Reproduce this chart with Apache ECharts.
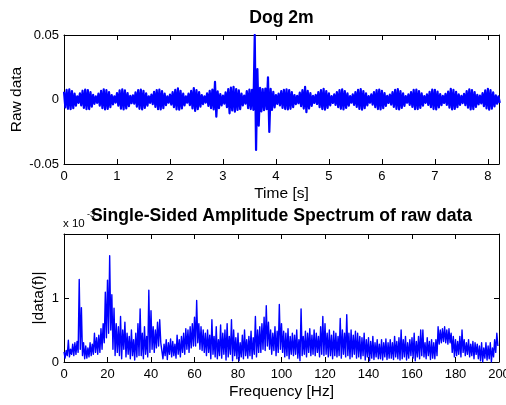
<!DOCTYPE html>
<html>
<head>
<meta charset="utf-8">
<title>Dog 2m</title>
<script src="https://cdn.jsdelivr.net/npm/echarts@6/dist/echarts.min.js"></script>
<style>
  html, body { margin: 0; padding: 0; background: #fff; }
  #chart { width: 506px; height: 405px; }
</style>
</head>
<body>
<div id="chart"></div>
<script>
// raw data envelope, one max/min pair every 0.05 s (values in 1e-3)
var rawStep = 0.05
var rawHi = [
  6.0, 7.4, 7.8, 6.6, 4.6, 2.5, 4.8, 6.8, 7.7, 7.3, 5.8, 3.6, 2.4, 4.6, 6.7, 7.9, 7.2, 5.8, 3.5, 2.5,
  5.0, 7.0, 7.8, 7.0, 5.0, 2.8, 3.3, 5.6, 7.3, 7.7, 6.7, 4.7, 2.5, 3.8, 5.9, 7.3, 7.7, 6.5, 4.5, 2.4,
  3.8, 5.8, 7.4, 8.6, 6.7, 4.5, 2.4, 4.5, 6.7, 8.9, 7.3, 5.8, 3.5, 2.5, 4.7, 6.7, 7.6, 13.6, 6.4, 4.2,
  3.0, 5.5, 8.0, 9.2, 9.9, 8.0, 7.0, 4.5, 3.0, 6.5, 7.6, 7.5, 50, 23.6, 9.0, 8.0, 8.5, 17.2, 8.2, 6.0,
  3.5, 4.6, 6.5, 7.5, 7.8, 7.3, 5.8, 3.5, 2.8, 5.3, 7.2, 9.9, 6.8, 5.0, 2.8, 3.6, 5.8, 7.3, 8.2, 6.5,
  4.7, 2.6, 4.0, 5.8, 7.3, 7.8, 6.6, 4.8, 2.6, 4.0, 5.8, 7.4, 8.0, 6.6, 4.8, 2.6, 4.0, 5.8, 7.3, 7.6,
  6.8, 5.0, 2.8, 3.8, 5.8, 7.4, 8.1, 6.6, 4.8, 2.6, 4.0, 5.8, 7.4, 7.6, 6.6, 4.8, 2.6, 4.0, 6.0, 7.6,
  7.5, 6.2, 4.2, 2.8, 4.3, 6.2, 8.2, 7.4, 6.0, 4.0, 2.8, 4.3, 6.5, 7.8, 7.3, 5.8, 3.6, 3.0, 5.0, 7.0,
  8.3, 7.2, 5.5, 3.2, 2.5
]
var rawLo = [
  -6.2, -7.2, -7.5, -6.8, -4.8, -2.6, -4.5, -6.6, -7.5, -7.4, -5.6, -3.4, -2.6, -4.8, -6.8, -7.6, -7.3, -5.9, -3.7, -2.4,
  -4.8, -7.1, -7.7, -6.9, -5.2, -2.9, -3.2, -5.5, -7.2, -7.6, -6.6, -4.8, -2.6, -3.6, -5.7, -7.5, -7.6, -6.7, -4.4, -2.5,
  -3.9, -6.0, -7.6, -7.8, -6.9, -4.6, -2.5, -4.4, -6.9, -8.8, -7.5, -5.6, -3.6, -2.4, -4.9, -6.8, -7.7, -13.3, -6.8, -4.5,
  -3.2, -6.0, -10.7, -8.5, -9.4, -8.0, -7.5, -4.5, -3.2, -6.8, -7.4, -8.0, -39.1, -20.3, -9.2, -8.3, -7.5, -25.2, -8.0, -6.2,
  -3.4, -4.5, -6.6, -7.4, -7.7, -7.2, -6.0, -3.6, -2.9, -5.2, -7.0, -9.9, -7.0, -4.9, -2.7, -3.5, -5.9, -7.4, -7.8, -6.6,
  -4.6, -2.7, -4.2, -5.9, -7.2, -7.6, -6.5, -4.7, -2.5, -4.1, -5.8, -7.3, -7.8, -6.7, -4.6, -2.5, -4.0, -5.9, -7.4, -7.7,
  -6.7, -4.9, -2.7, -3.9, -5.7, -7.3, -7.7, -6.5, -4.9, -2.5, -4.1, -5.7, -7.5, -7.4, -6.6, -4.7, -2.6, -4.1, -6.0, -7.4,
  -7.6, -6.1, -4.3, -2.7, -4.2, -6.3, -7.6, -7.3, -5.9, -4.1, -2.8, -4.4, -6.4, -7.6, -7.4, -5.7, -3.7, -3.0, -5.1, -6.9,
  -7.9, -7.1, -5.4, -3.3, -2.6
]

// single-sided spectrum, max/min per 1 Hz bin from 0 to 199 Hz (values in 1e-3)
var specHi = [
  0.16, 0.18, 0.34, 0.2, 0.28, 0.3, 0.32, 1.29, 0.85, 0.3,
  0.25, 0.22, 0.3, 0.28, 0.45, 0.38, 0.42, 0.52, 0.6, 1.09,
  1.28, 1.66, 1.05, 0.84, 0.6, 0.55, 0.71, 0.5, 0.62, 0.45,
  0.4, 0.5, 0.35, 0.45, 0.6, 0.83, 0.45, 0.55, 0.4, 1.12,
  0.8, 0.55, 0.5, 0.62, 0.66, 0.3, 0.28, 0.35, 0.3, 0.36,
  0.32, 0.28, 0.42, 0.35, 0.4, 0.45, 0.52, 0.5, 0.55, 0.6,
  0.7, 0.96, 0.6, 0.55, 0.5, 0.45, 0.5, 0.42, 0.66, 0.4,
  0.55, 0.35, 0.58, 0.45, 0.5, 0.6, 0.4, 0.66, 0.5, 0.38,
  0.45, 0.3, 0.42, 0.5, 0.35, 0.4, 0.48, 0.38, 0.71, 0.5,
  0.55, 0.6, 0.7, 0.88, 0.62, 0.5, 0.45, 0.55, 0.48, 0.9,
  0.6, 0.48, 0.45, 0.52, 0.4, 0.45, 0.42, 0.5, 0.35, 0.83,
  0.4, 0.48, 0.45, 0.52, 0.42, 0.5, 0.45, 0.4, 0.55, 0.71,
  0.6, 0.45, 0.5, 0.42, 0.48, 0.45, 0.4, 0.68, 0.5, 0.45,
  0.74, 0.45, 0.5, 0.42, 0.48, 0.45, 0.4, 0.38, 0.45, 0.35,
  0.38, 0.32, 0.4, 0.3, 0.35, 0.28, 0.35, 0.3, 0.36, 0.3,
  0.35, 0.3, 0.4, 0.32, 0.38, 0.5, 0.35, 0.4, 0.3, 0.35,
  0.38, 0.45, 0.32, 0.4, 0.5, 0.5, 0.3, 0.38, 0.32, 0.35,
  0.3, 0.35, 0.55, 0.5, 0.52, 0.55, 0.5, 0.52, 0.45, 0.4,
  0.35, 0.32, 0.4, 0.5, 0.35, 0.3, 0.35, 0.28, 0.32, 0.3,
  0.28, 0.25, 0.3, 0.22, 0.3, 0.25, 0.3, 0.22, 0.35, 0.45
]
var specLo = [
  0.06, 0.1, 0.08, 0.12, 0.1, 0.12, 0.15, 0.2, 0.1, 0.05,
  0.06, 0.08, 0.1, 0.12, 0.15, 0.12, 0.15, 0.2, 0.3, 0.38,
  0.45, 0.5, 0.2, 0.1, 0.15, 0.1, 0.05, 0.2, 0.08, 0.12,
  0.05, 0.1, 0.03, 0.08, 0.1, 0.1, 0.05, 0.12, 0.08, 0.15,
  0.2, 0.15, 0.22, 0.25, 0.3, 0.05, 0.1, 0.04, 0.12, 0.08,
  0.1, 0.06, 0.12, 0.08, 0.15, 0.12, 0.2, 0.15, 0.22, 0.25,
  0.25, 0.3, 0.2, 0.18, 0.15, 0.1, 0.15, 0.05, 0.12, 0.08,
  0.05, 0.1, 0.06, 0.12, 0.03, 0.08, 0.12, 0.02, 0.1, 0.05,
  0.02, 0.08, 0.05, 0.1, 0.06, 0.1, 0.05, 0.12, 0.08, 0.15,
  0.15, 0.2, 0.18, 0.25, 0.2, 0.12, 0.18, 0.1, 0.15, 0.2,
  0.15, 0.08, 0.1, 0.05, 0.12, 0.1, 0.12, 0.06, 0.02, 0.1,
  0.12, 0.08, 0.15, 0.1, 0.12, 0.1, 0.15, 0.08, 0.12, 0.1,
  0.12, 0.08, 0.1, 0.05, 0.1, 0.08, 0.1, 0.06, 0.12, 0.08,
  0.1, 0.05, 0.08, 0.12, 0.06, 0.08, 0.05, 0.1, 0.03, 0.08,
  0.02, 0.06, 0.04, 0.08, 0.05, 0.05, 0.03, 0.08, 0.04, 0.06,
  0.06, 0.04, 0.08, 0.05, 0.03, 0.05, 0.08, 0.03, 0.06, 0.1,
  0.06, 0.02, 0.08, 0.05, 0.1, 0.08, 0.05, 0.1, 0.04, 0.06,
  0.05, 0.1, 0.28, 0.3, 0.32, 0.3, 0.28, 0.3, 0.15, 0.08,
  0.1, 0.12, 0.08, 0.15, 0.1, 0.12, 0.08, 0.1, 0.05, 0.12,
  0.05, 0.02, 0.0, 0.06, 0.03, 0.05, 0.0, 0.08, 0.15, 0.25
]

var timeRange = [0, 8.21]
var rawRange = [-0.05, 0.05]
var freqRange = [0, 200]
var ampRange = [0, 2]

var font = 'Liberation Sans, Arial, sans-serif'
var blue = '#0000ff'

// zigzag between max and min so the dense trace fills like the original
var rawLine = []
rawHi.forEach(function (v, i) {
  var t = i * rawStep
  rawLine.push([t, v / 1000], [t + rawStep / 2, rawLo[i] / 1000])
})
var specLine = []
specHi.forEach(function (v, i) {
  specLine.push([i, v], [i + 0.5, specLo[i]])
})

function axis(opt) {
  var base = {
    type: 'value',
    splitLine: { show: false },
    axisLine: { onZero: false, lineStyle: { color: '#000', width: 1 } },
    axisTick: { inside: true, length: 5, lineStyle: { color: '#000' } },
    axisLabel: { color: '#000', fontFamily: font, fontSize: 13 },
    nameLocation: 'middle',
    nameMoveOverlap: false,
    nameTextStyle: { color: '#000', fontFamily: font, fontSize: 15.5 }
  }
  for (var k in opt) {
    if (k === 'axisLabel') base.axisLabel = Object.assign(base.axisLabel, opt[k])
    else base[k] = opt[k]
  }
  return base
}

var chart = echarts.init(document.getElementById('chart'), null, { renderer: 'canvas' })
chart.setOption({
  animation: false,
  backgroundColor: '#fff',
  title: [
    { text: 'x 10', left: 63, top: 218, padding: 0,
      textStyle: { color: '#000', fontFamily: font, fontSize: 11.5, fontWeight: 'normal' } },
    { text: '-3', left: 87, top: 210, padding: 0,
      textStyle: { color: '#000', fontFamily: font, fontSize: 9, fontWeight: 'normal' } },
    { text: 'Dog 2m', left: 281.5, top: 9, padding: 0, textAlign: 'center',
      textStyle: { color: '#000', fontFamily: font, fontSize: 17.6, fontWeight: 'bold' } },
    { text: 'Single-Sided Amplitude Spectrum of raw data', left: 281.5, top: 207.5, padding: 0, textAlign: 'center',
      textStyle: { color: '#000', fontFamily: font, fontSize: 17.6, fontWeight: 'bold' } }
  ],
  grid: [
    { left: 64, top: 35, width: 435, height: 129, outerBoundsMode: 'none', containLabel: false },
    { left: 64, top: 234, width: 435, height: 128, outerBoundsMode: 'none', containLabel: false }
  ],
  xAxis: [
    axis({ gridIndex: 0, position: 'bottom', min: timeRange[0], max: timeRange[1], interval: 1,
      name: 'Time [s]', nameGap: 22, axisLabel: { margin: 6, showMaxLabel: false } }),
    axis({ gridIndex: 0, position: 'top', min: timeRange[0], max: timeRange[1], interval: 1,
      axisLabel: { show: false } }),
    axis({ gridIndex: 1, position: 'bottom', min: freqRange[0], max: freqRange[1], interval: 20,
      name: 'Frequency [Hz]', nameGap: 22, axisLabel: { margin: 6, showMaxLabel: true } }),
    axis({ gridIndex: 1, position: 'top', min: freqRange[0], max: freqRange[1], interval: 20,
      axisLabel: { show: false } })
  ],
  yAxis: [
    axis({ gridIndex: 0, position: 'left', min: rawRange[0], max: rawRange[1], interval: 0.05,
      name: 'Raw data', nameGap: 39.5, axisLabel: { margin: 5 } }),
    axis({ gridIndex: 0, position: 'right', min: rawRange[0], max: rawRange[1], interval: 0.05,
      axisLabel: { show: false } }),
    axis({ gridIndex: 1, position: 'left', min: ampRange[0], max: ampRange[1], interval: 1,
      name: '|data(f)|', nameGap: 17, axisLabel: { margin: 5, showMaxLabel: false } }),
    axis({ gridIndex: 1, position: 'right', min: ampRange[0], max: ampRange[1], interval: 1,
      axisLabel: { show: false } })
  ],
  series: [
    {
      type: 'line', xAxisIndex: 0, yAxisIndex: 0, data: rawLine,
      symbol: 'none', lineStyle: { color: blue, width: 2.2, join: 'round' }, clip: true
    },
    {
      type: 'line', xAxisIndex: 2, yAxisIndex: 2, data: specLine,
      symbol: 'none', lineStyle: { color: blue, width: 1.4, join: 'round' }, clip: true
    }
  ]
})
</script>
</body>
</html>
